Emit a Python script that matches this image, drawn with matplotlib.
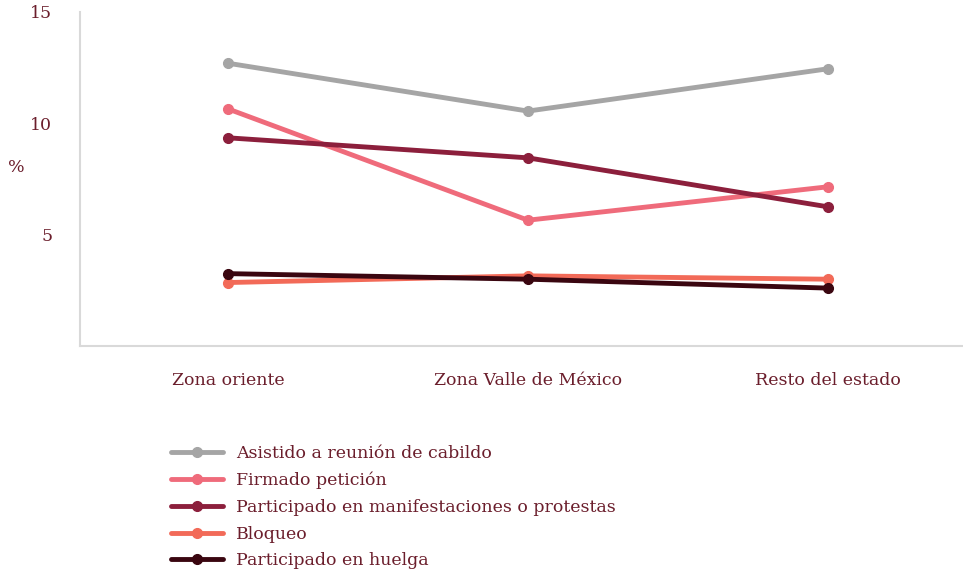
import matplotlib.pyplot as plt

plt.rcParams['font.family'] = ['DejaVu Serif']

zonas = ['Zona oriente', 'Zona Valle de México', 'Resto del estado']
asistido = [12.7, 10.55, 12.45]
firmado = [10.65, 5.65, 7.15]
manifestaciones = [9.35, 8.45, 6.25]
bloqueo = [2.85, 3.15, 3.0]
huelga = [3.25, 3.0, 2.6]

series = [
    ('Asistido a reunión de cabildo', asistido, '#a5a5a5'),
    ('Firmado petición', firmado, '#ef6b7b'),
    ('Participado en manifestaciones o protestas', manifestaciones, '#8c1f3c'),
    ('Bloqueo', bloqueo, '#f26a58'),
    ('Participado en huelga', huelga, '#3a0610'),
]
color_texto = '#6b1e2c'
tam = 12.5

fig = plt.figure(figsize=(9.63, 5.74), dpi=100)
ax = fig.add_axes([80 / 963, 1 - 346 / 574, 1 - 80 / 963, (346 - 12) / 574])

x = range(len(zonas))
for nombre, valores, color in series:
    ax.plot(x, valores, color=color, lw=3.5, marker='o', ms=7, label=nombre,
            solid_capstyle='round')

ax.set_xlim(-0.493, 2.45)
ax.set_ylim(0, 15)
ax.set_yticks([5, 10, 15])
ax.set_xticks(list(x))
ax.set_xticklabels(zonas)
ax.tick_params(axis='both', length=0, labelsize=tam, labelcolor=color_texto)
ax.tick_params(axis='y', pad=20)
ax.tick_params(axis='x', pad=19)

for lado in ['top', 'right']:
    ax.spines[lado].set_visible(False)
for lado in ['left', 'bottom']:
    ax.spines[lado].set_color('#d9d9d9')
    ax.spines[lado].set_linewidth(1.5)

ax.set_ylabel('%', rotation=0, fontsize=tam, color=color_texto)
ax.yaxis.set_label_coords(-0.072, 0.51)

fig.legend(loc='upper left', bbox_to_anchor=(164 / 963, 1 - 438 / 574),
           frameon=False, fontsize=tam, labelcolor=color_texto,
           handlelength=3.0, labelspacing=0.56, handletextpad=0.75,
           borderaxespad=0)

fig.savefig('out.png', dpi=100)
